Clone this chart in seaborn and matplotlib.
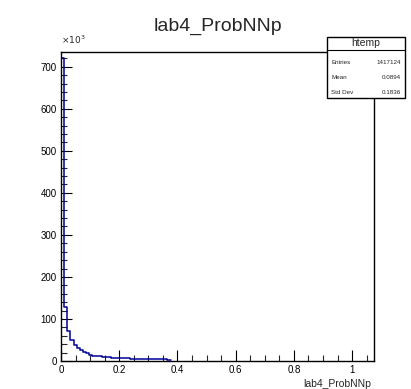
import numpy as np
import pandas as pd
import matplotlib
matplotlib.use("Agg")
import matplotlib.pyplot as plt
import seaborn as sns
from matplotlib.patches import Rectangle
from matplotlib.ticker import MultipleLocator

# bin contents in units of 10^3, bin width ~0.01075
counts_k = [720, 128, 71, 51, 39, 30, 25, 21, 18, 15, 13, 12, 11, 10, 9,
            8.5, 8, 7.5, 7, 6.5, 6, 6, 5.5, 5.5, 5, 5, 5, 4.5, 4.5, 4.5,
            4, 4, 4, 4, 3.5]
bin_width = 0.01075
stat_labels = ["Entries", "Mean", "Std Dev"]
stat_values = ["1417124", "0.0894", "0.1836"]

edges = [i * bin_width for i in range(len(counts_k) + 1)]
centers = [(edges[i] + edges[i + 1]) / 2 for i in range(len(counts_k))]
df = pd.DataFrame({"x": centers, "w": counts_k})

sns.set_style("white")
plt.rcParams["font.family"] = ["Liberation Sans", "DejaVu Sans"]

fig = plt.figure(figsize=(4.11, 3.89), dpi=100)
ax = fig.add_axes([61/411, 1 - 361/389, (374 - 61)/411, (361 - 52)/389])

sns.histplot(data=df, x="x", weights="w", bins=edges, element="step",
             fill=False, color="#000099", linewidth=1.1, ax=ax)

ax.set_xlim(0, 1.075)
ax.set_ylim(0, 735)
ax.xaxis.set_major_locator(MultipleLocator(0.2))
ax.xaxis.set_minor_locator(MultipleLocator(0.05))
ax.yaxis.set_major_locator(MultipleLocator(100))
ax.yaxis.set_minor_locator(MultipleLocator(20))
ax.set_xticks([0, 0.2, 0.4, 0.6, 0.8, 1.0])
ax.set_xticklabels(["0", "0.2", "0.4", "0.6", "0.8", "1"])
ax.tick_params(which="major", direction="in", length=8, width=0.8,
               labelsize=7, pad=3, colors="black", top=False, right=False)
ax.tick_params(which="minor", direction="in", length=4, width=0.8,
               top=False, right=False)
ax.tick_params(axis="x", which="both", bottom=True)
ax.tick_params(axis="y", which="both", left=True)
for s in ax.spines.values():
    s.set_color("black")
    s.set_linewidth(1.0)
ax.set_xlabel("")
ax.set_ylabel("")

fig.text(61/411, 1 - 46/389, r"$\times10^{3}$", fontsize=6.5, ha="left",
         va="bottom")
fig.text(371/411, 1 - 384/389, "lab4_ProbNNp", fontsize=7.5, ha="right",
         va="center")
fig.text(218/411, 1 - 26/389, "lab4_ProbNNp", fontsize=14, ha="center",
         va="center")

# stats box
bx0, bx1, by0, by1 = 327, 405, 37, 98
fig.patches.append(Rectangle((bx0/411, 1 - by1/389), (bx1 - bx0)/411,
                             (by1 - by0)/389, transform=fig.transFigure,
                             facecolor="white", edgecolor="black",
                             linewidth=1.0, zorder=5))
fig.add_artist(plt.Line2D([bx0/411, bx1/411], [1 - 50/389, 1 - 50/389],
                          transform=fig.transFigure, color="black",
                          linewidth=0.8, zorder=6))
fig.text((bx0 + bx1)/2/411, 1 - 43.5/389, "htemp", fontsize=7.5,
         ha="center", va="center", zorder=7)
for i, (lab, val) in enumerate(zip(stat_labels, stat_values)):
    yy = 1 - (63 + 14.5*i)/389
    fig.text((bx0 + 4)/411, yy, lab, fontsize=4.5, ha="left",
             va="center", zorder=7)
    fig.text((bx1 - 4)/411, yy, val, fontsize=4.5, ha="right",
             va="center", zorder=7)

fig.savefig("out.png", dpi=100)
